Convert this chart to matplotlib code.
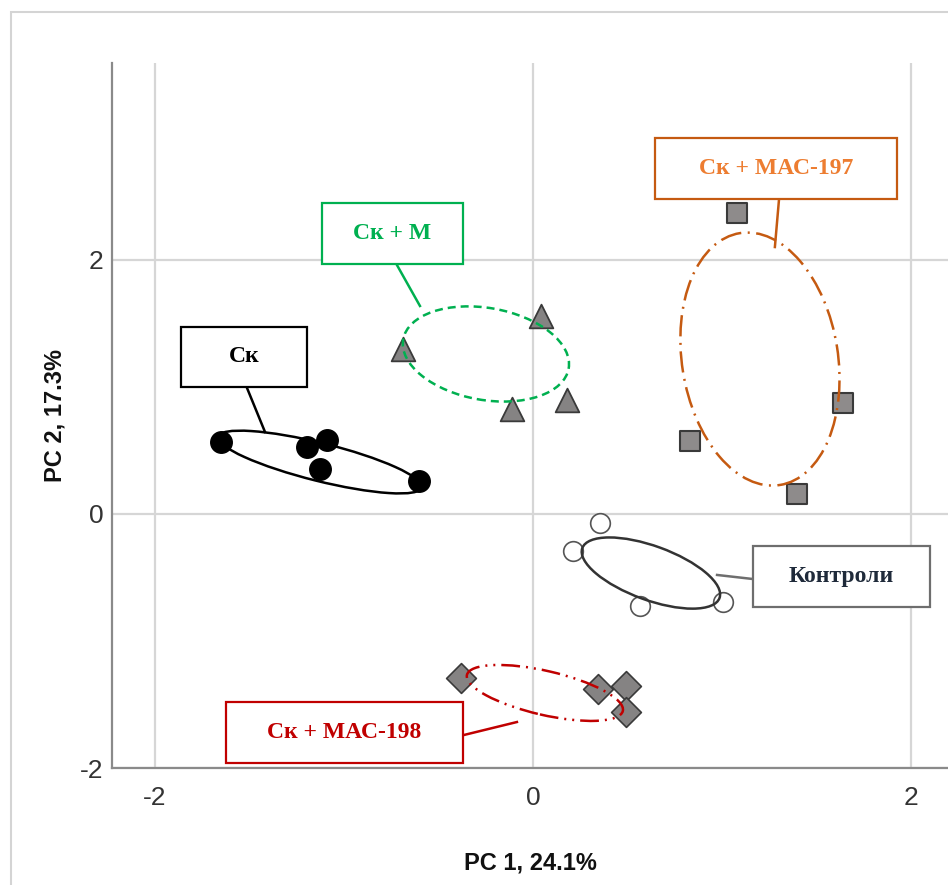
import matplotlib
matplotlib.use("Agg")
from matplotlib import pyplot as plt
from matplotlib import patches, transforms

plt.rcParams['axes.unicode_minus'] = False

# PCA scores
sk_x = [-1.65, -1.196, -1.09, -1.127, -0.603]
sk_y = [0.567, 0.528, 0.583, 0.354, 0.26]

skm_x = [-0.688, 0.042, -0.111, 0.18]
skm_y = [1.30, 1.56, 0.827, 0.898]

mac197_x = [1.079, 1.64, 0.831, 1.397]
mac197_y = [2.37, 0.874, 0.575, 0.157]

ctrl_x = [0.354, 0.212, 0.566, 1.005]
ctrl_y = [-0.071, -0.291, -0.724, -0.693]

mac198_x = [-0.381, 0.344, 0.492, 0.492]
mac198_y = [-1.29, -1.378, -1.354, -1.559]

# group labels
names = ["Ск", "Ск + М", "Ск + МАС-197", "Контроли", "Ск + МАС-198"]
text_colors = ["#000000", "#00b050", "#ed7d31", "#1f2a3a", "#c00000"]
edge_colors = ["#000000", "#00b050", "#c55a11", "#6e6e6e", "#c00000"]

# ellipse centres (data) and size in pixels / angle in degrees
ell_cx = [-1.127, -0.249, 1.201, 0.624, 0.063]
ell_cy = [0.409, 1.26, 1.22, -0.465, -1.409]
ell_w = [210, 168, 156, 146, 160]
ell_h = [38, 92, 255, 54, 44]
ell_ang = [-14, -10, 9, -20, -13]
ell_col = ["#000000", "#00b050", "#c55a11", "#333333", "#c00000"]
ell_ls = ["-", (0, (3.2, 2.0)), (0, (8.5, 2.6, 0.8, 2.6)),
          "-", (0, (7.5, 2.4, 0.8, 2.4, 0.8, 2.4))]

# label boxes: centre (data), size in pixels
box_cx = [-1.529, -0.743, 1.286, 1.632, -0.997]
box_cy = [1.24, 2.209, 2.72, -0.492, -1.72]
box_w = [126, 141, 242, 177, 237]
box_h = [60, 61, 61, 61, 61]

# leader lines from box to ellipse
lead_x = [(-1.513, -1.418), (-0.720, -0.598), (1.302, 1.280), (0.974, 1.164), (-0.365, -0.085)]
lead_y = [(0.992, 0.646), (1.961, 1.638), (2.480, 2.102), (-0.480, -0.512), (-1.740, -1.638)]

fig = plt.figure(figsize=(9.48, 8.85), dpi=100)
ax = fig.add_axes([112 / 948, 117 / 885, 836 / 948, 705 / 885])
ax.set_xlim(-2.2275, 2.196)
ax.set_ylim(-2.0, 3.551)

# outer frame
frame = patches.Rectangle((11 / 948, -0.2), 1.2, 1.2 - 12 / 885,
                          transform=fig.transFigure, fill=False,
                          edgecolor="#d4d4d4", lw=1.5, zorder=0)
fig.patches.append(frame)

for s in ["top", "right"]:
    ax.spines[s].set_visible(False)
for s in ["left", "bottom"]:
    ax.spines[s].set_color("#8a8a8a")
    ax.spines[s].set_linewidth(1.6)

ax.set_xticks([-2, 0, 2])
ax.set_yticks([-2, 0, 2])
ax.grid(True, color="#d6d6d6", lw=1.6)
ax.set_axisbelow(True)
ax.tick_params(length=0)
ax.tick_params(axis="y", pad=6)
ax.tick_params(axis="x", pad=13)
tick_font = ["Liberation Sans Narrow", "Liberation Sans"]
for lab in ax.get_xticklabels() + ax.get_yticklabels():
    lab.set_family(tick_font)
    lab.set_fontsize(19)
    lab.set_color("#333333")

ax.set_xlabel("PC 1, 24.1%", fontsize=17, fontweight="bold",
              family="Liberation Sans", color="#111111", labelpad=30)
ax.set_ylabel("PC 2, 17.3%", fontsize=17, fontweight="bold",
              family="Liberation Sans", color="#111111", labelpad=10)

mk_edge = "#3a3a3a"
ax.scatter(sk_x, sk_y, s=240, marker="o", color="black", zorder=3)
ax.scatter(skm_x, skm_y, s=290, marker="^", facecolor="#858383",
           edgecolor=mk_edge, linewidth=1.3, zorder=3)
ax.scatter(mac197_x, mac197_y, s=225, marker="s", facecolor="#8e8b8b",
           edgecolor=mk_edge, linewidth=1.5, zorder=3)
ax.scatter(ctrl_x, ctrl_y, s=200, marker="o", facecolor="white",
           edgecolor="#555555", linewidth=1.2, zorder=3)
ax.scatter(mac198_x, mac198_y, s=230, marker="D", facecolor="#858383",
           edgecolor=mk_edge, linewidth=1.2, zorder=3)

for i in range(len(names)):
    tr = transforms.IdentityTransform() + transforms.ScaledTranslation(
        ell_cx[i], ell_cy[i], ax.transData)
    e = patches.Ellipse((0, 0), ell_w[i], ell_h[i], angle=ell_ang[i],
                        fill=False, edgecolor=ell_col[i], lw=1.8,
                        linestyle=ell_ls[i], transform=tr, zorder=4)
    ax.add_patch(e)

    ax.plot(lead_x[i], lead_y[i], color=edge_colors[i], lw=1.8, zorder=4)

    tr = transforms.IdentityTransform() + transforms.ScaledTranslation(
        box_cx[i], box_cy[i], ax.transData)
    r = patches.Rectangle((-box_w[i] / 2, -box_h[i] / 2), box_w[i], box_h[i],
                          facecolor="white", edgecolor=edge_colors[i],
                          lw=1.6, transform=tr, zorder=5)
    ax.add_patch(r)
    ax.text(box_cx[i], box_cy[i], names[i], ha="center", va="center",
            fontsize=17, fontweight="bold", family="Liberation Serif",
            color=text_colors[i], zorder=6)

fig.savefig("out.png", dpi=100)
